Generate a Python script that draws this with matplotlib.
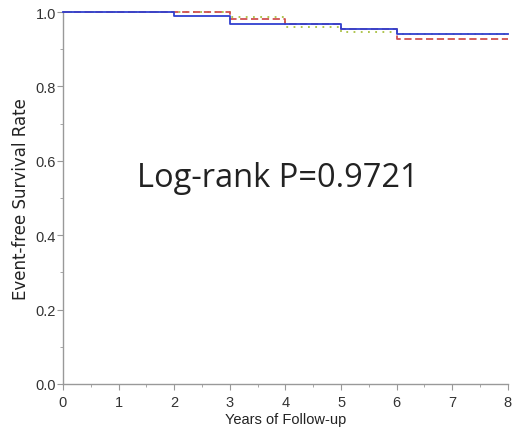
import matplotlib
matplotlib.use("Agg")
import matplotlib.pyplot as plt
from matplotlib.ticker import MultipleLocator

# Step times (years) and survival after each step
blue_t = [0, 2, 3, 5, 6, 8]
blue_s = [1.0, 0.990, 0.968, 0.954, 0.941, 0.941]
red_t = [0, 3, 4, 5, 6, 8]
red_s = [1.0, 0.981, 0.968, 0.954, 0.927, 0.927]
green_t = [0, 3, 4, 5, 6, 8]
green_s = [1.0, 0.986, 0.960, 0.946, 0.941, 0.941]

xticks = [0, 1, 2, 3, 4, 5, 6, 7, 8]
yticks = [0.0, 0.2, 0.4, 0.6, 0.8, 1.0]
ytick_labels = ["0.0", "0.2", "0.4", "0.6", "0.8", "1.0"]

fig = plt.figure(figsize=(5.12, 4.35), dpi=100)
ax = fig.add_axes([0.123, 0.115, 0.869, 0.855])

ax.step(green_t, green_s, where="post", color="#a8c040", lw=1.3, ls=(0, (1, 3)), clip_on=False, zorder=3)
ax.step(red_t, red_s, where="post", color="#d05050", lw=1.3, ls=(0, (4, 2)), clip_on=False, zorder=4)
ax.step(blue_t, blue_s, where="post", color="#3040d0", lw=1.3, clip_on=False, zorder=5)

ax.set_xlim(0, 8)
ax.set_ylim(0, 1.0)
ax.set_xticks(xticks)
ax.set_yticks(yticks)
ax.set_yticklabels(ytick_labels)
ax.xaxis.set_minor_locator(MultipleLocator(0.5))
ax.yaxis.set_minor_locator(MultipleLocator(0.1))

for s in ["top", "right"]:
    ax.spines[s].set_visible(False)
for s in ["left", "bottom"]:
    ax.spines[s].set_color("#999999")
    ax.spines[s].set_linewidth(1.0)

ax.tick_params(which="major", length=4, color="#999999", labelsize=10.5)
ax.tick_params(axis="x", which="major", pad=4)
ax.tick_params(axis="y", which="major", pad=1)
ax.tick_params(which="minor", length=2, color="#999999")
for lab in ax.get_xticklabels() + ax.get_yticklabels():
    lab.set_family("Liberation Sans")
    lab.set_color("#333333")

ax.set_xlabel("Years of Follow-up", fontsize=10.5, family="Liberation Sans", color="#222222", labelpad=2)
ax.set_ylabel("Event-free Survival Rate", fontsize=12, family="DejaVu Sans", color="#222222", labelpad=4)

ax.text(3.87, 0.532, "Log-rank P=0.9721", fontsize=23.5, family="Open Sans", color="#222222",
        ha="center", va="baseline")

fig.savefig("out.png", dpi=100)
